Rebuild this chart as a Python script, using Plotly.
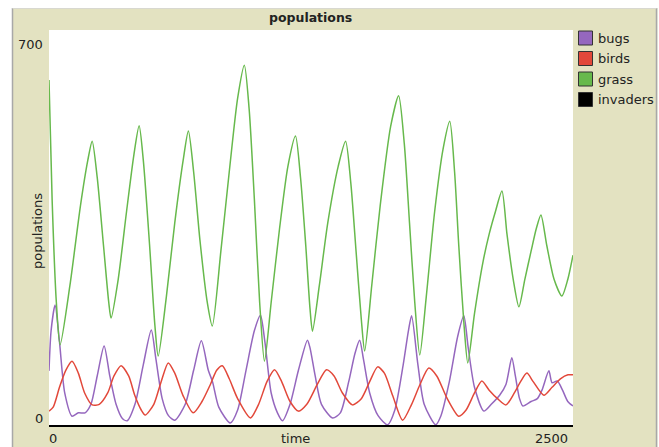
import plotly.graph_objects as go

# ---------------- data ----------------
grass_t = [0, 15, 35, 53, 100, 150, 185, 206, 230, 260, 285, 296, 330, 370, 405, 430,
           450, 480, 505, 521, 560, 600, 640, 665, 690, 720, 755, 779, 820, 860, 900, 932,
           955, 980, 1005, 1028, 1060, 1100, 1140, 1176, 1200, 1225, 1245, 1257, 1290, 1330,
           1380, 1415, 1440, 1465, 1490, 1506, 1540, 1580, 1630, 1668, 1695, 1720, 1745, 1769,
           1800, 1840, 1880, 1912, 1935, 1955, 1980, 1998, 2030, 2070, 2100, 2130, 2161, 2185,
           2215, 2242, 2270, 2300, 2325, 2347, 2375, 2410, 2447, 2475, 2500]
grass_v = [612, 400, 220, 145, 250, 390, 470, 504, 440, 320, 220, 192, 260, 380, 480, 531,
           470, 320, 180, 125, 230, 360, 470, 522, 450, 330, 220, 178, 310, 450, 580, 638,
           560, 400, 220, 116, 220, 350, 460, 513, 440, 320, 210, 169, 250, 360,
           460, 504, 430, 310, 190, 134, 250, 390, 530, 584, 500, 360, 220, 127,
           230, 380, 490, 539, 450, 320, 180, 113, 200, 290, 340, 380, 416, 340,
           260, 212, 260, 310, 350, 374, 320, 260, 231, 260, 303]

bugs_t = [0, 10, 29, 50, 75, 110, 140, 172, 200, 230, 263, 290, 320, 350, 373, 410, 450,
          488, 510, 540, 570, 600, 650, 690, 727, 760, 780, 810, 865, 900, 940, 980, 1009,
          1030, 1060, 1090, 1114, 1150, 1190, 1233, 1245, 1270, 1300, 1353, 1390, 1430, 1460,
          1482, 1500, 1530, 1570, 1616, 1650, 1690, 1715, 1730, 1760, 1790, 1845, 1870, 1910,
          1950, 1979, 2000, 2030, 2075, 2110, 2150, 2180, 2208, 2225, 2245, 2261, 2300, 2330,
          2352, 2385, 2400, 2425, 2450, 2475, 2500]
bugs_v = [99, 170, 215, 150, 60, 19, 25, 25, 40, 90, 143, 90, 40, 15, 11, 40, 110,
          171, 120, 50, 20, 12, 40, 100, 152, 100, 80, 35, 7, 30, 100, 170, 197,
          150, 60, 25, 11, 40, 100, 153, 140, 90, 40, 16, 25, 80, 130,
          153, 120, 60, 20, 4, 30, 110, 170, 196, 110, 40, 4, 20, 80,
          160, 196, 140, 70, 28, 40, 56, 75, 122, 90, 50, 37, 45, 50,
          65, 99, 78, 81, 65, 45, 37]

birds_t = [0, 20, 50, 80, 110, 140, 170, 206, 240, 280, 310, 344, 380, 410, 440, 459, 500,
           535, 569, 600, 640, 688, 730, 770, 800, 827, 860, 900, 961, 1000, 1040, 1076, 1110,
           1150, 1190, 1230, 1280, 1324, 1360, 1400, 1448, 1490, 1530, 1568, 1600, 1640, 1687,
           1730, 1770, 1812, 1850, 1900, 1955, 1990, 2030, 2065, 2100, 2140, 2180, 2220, 2250,
           2280, 2310, 2361, 2400, 2440, 2476, 2500]
birds_v = [28, 35, 70, 100, 116, 95, 60, 39, 40, 60, 90, 108, 90, 55, 30, 21, 40,
           80, 113, 95, 55, 25, 45, 75, 100, 108, 85, 50, 16, 40, 80, 101, 80,
           45, 28, 40, 75, 101, 90, 60, 39, 50, 80, 106, 95, 55, 12,
           40, 75, 104, 90, 50, 19, 30, 60, 81, 65, 50, 39, 60, 80,
           95, 80, 56, 70, 85, 92, 92]

invaders_t = [0, 2500]
invaders_v = [0, 0]

series_names = ["bugs", "birds", "grass", "invaders"]
series_colors = ["#9567BE", "#E2483A", "#67B94C", "#000000"]
x_tick_labels = ["0", "2500"]
y_tick_labels = ["0", "700"]
x_range = [0, 2500]
y_range = [0, 700]

# ---------------- layout helpers (screen pixels) ----------------
W, H = 659, 447
PL, PR, PT, PB = 49, 573, 30, 427     # plot area
PW, PH = PR - PL, PB - PT


def px(x):
    return (x - PL) / PW


def py(y):
    return (PB - y) / PH


BEIGE = "#E3E2C1"
FONT = "DejaVu Sans"
TXT = "#222222"

fig = go.Figure()
data = [(bugs_t, bugs_v), (birds_t, birds_v), (grass_t, grass_v)]
for (t, v), name, col in zip(data, series_names[:3], series_colors[:3]):
    fig.add_trace(go.Scatter(x=t, y=v, mode="lines", name=name,
                             line=dict(color=col, width=1.5, shape="spline", smoothing=0.7),
                             showlegend=False, hoverinfo="skip"))
fig.add_trace(go.Scatter(x=invaders_t, y=invaders_v, mode="lines", name=series_names[3],
                         line=dict(color=series_colors[3], width=4),
                         showlegend=False, hoverinfo="skip"))

shapes = [
    # white surroundings of the widget
    dict(type="rect", xref="paper", yref="paper", x0=px(0), x1=px(12), y0=py(H), y1=py(0),
         fillcolor="white", line=dict(width=0), layer="below"),
    dict(type="rect", xref="paper", yref="paper", x0=px(0), x1=px(W), y0=py(8), y1=py(0),
         fillcolor="white", line=dict(width=0), layer="below"),
    dict(type="rect", xref="paper", yref="paper", x0=px(657.5), x1=px(W), y0=py(H), y1=py(0),
         fillcolor="white", line=dict(width=0), layer="below"),
    # widget border lines
    dict(type="line", xref="paper", yref="paper", x0=px(12.5), x1=px(12.5), y0=py(H), y1=py(8),
         line=dict(color="#A8A8A8", width=1.5)),
    dict(type="line", xref="paper", yref="paper", x0=px(656.5), x1=px(656.5), y0=py(H), y1=py(8),
         line=dict(color="#A8A8A8", width=1.5)),
    dict(type="line", xref="paper", yref="paper", x0=px(12.5), x1=px(656.5), y0=py(8.5), y1=py(8.5),
         line=dict(color="#D8D8D0", width=1)),
]


def label(text, x, y, size=13, xanchor="center", **kw):
    d = dict(text=text, xref="paper", yref="paper", x=px(x), y=py(y), xanchor=xanchor,
             yanchor="middle", showarrow=False, font=dict(family=FONT, size=size, color=TXT))
    d.update(kw)
    return d


annotations = [
    label("<b>populations</b>", 310, 17, size=12.5),
    label("populations", 37, 231, textangle=-90),
    label("time", 295, 438),
    dict(text=x_tick_labels[0], xref="x", yref="paper", x=x_range[0], y=py(438), xanchor="left",
         yanchor="middle", xshift=-2, showarrow=False, font=dict(family=FONT, size=13, color=TXT)),
    dict(text=x_tick_labels[1], xref="x", yref="paper", x=x_range[1], y=py(438), xanchor="right",
         yanchor="middle", xshift=-3, showarrow=False, font=dict(family=FONT, size=13, color=TXT)),
    dict(text=y_tick_labels[1], xref="paper", yref="y", x=px(45), y=y_range[1], xanchor="right",
         yanchor="middle", yshift=-14, showarrow=False, font=dict(family=FONT, size=13, color=TXT)),
    dict(text=y_tick_labels[0], xref="paper", yref="y", x=px(45), y=y_range[0], xanchor="right",
         yanchor="middle", yshift=9, showarrow=False, font=dict(family=FONT, size=13, color=TXT)),
]

# manual legend with filled squares
for i, (name, col) in enumerate(zip(series_names, series_colors)):
    cy = 38 + i * 20.5
    shapes.append(dict(type="rect", xref="paper", yref="paper",
                       x0=px(578.5), x1=px(592.5), y0=py(cy + 7), y1=py(cy - 7),
                       fillcolor=col, line=dict(color="#333333", width=1)))
    annotations.append(label(name, 596, cy + 0.5, xanchor="left"))

fig.update_layout(
    width=W, height=H,
    margin=dict(l=PL, r=W - PR, t=PT, b=H - PB, pad=0),
    paper_bgcolor=BEIGE, plot_bgcolor="white",
    xaxis=dict(range=x_range, showgrid=False, zeroline=False, showline=False,
               showticklabels=False, ticks="", fixedrange=True),
    yaxis=dict(range=y_range, showgrid=False, zeroline=False, showline=False,
               showticklabels=False, ticks="", fixedrange=True),
    shapes=shapes, annotations=annotations, showlegend=False,
)

fig.write_html(
    "out.html",
    config={"displayModeBar": False, "staticPlot": True},
    post_script="document.body.style.margin='0';document.body.style.overflow='hidden';",
)
